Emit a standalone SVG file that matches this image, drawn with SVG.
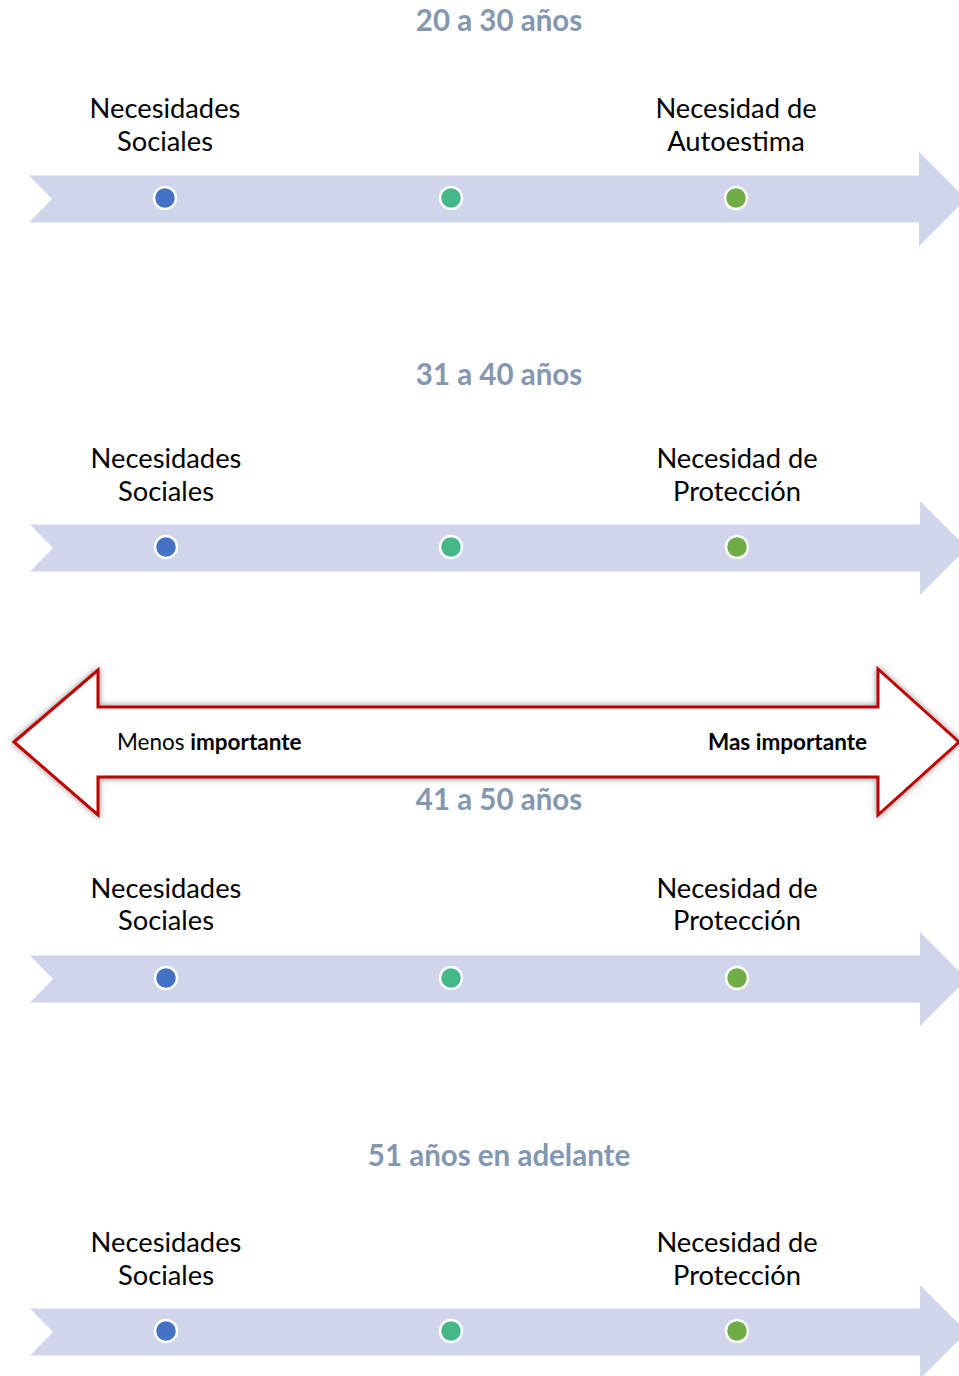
<svg xmlns="http://www.w3.org/2000/svg" width="959" height="1376" viewBox="0 0 959 1376">
<defs>
<style>
.band{fill:#CFD5EA}
.title{font-family:Lato,"Open Sans",sans-serif;font-weight:bold;font-size:29.5px;fill:#8497B0;text-anchor:middle}
.lbl{font-family:Lato,"Open Sans",sans-serif;font-size:27.3px;fill:#000;text-anchor:middle}
.imp{font-family:Lato,"Open Sans",sans-serif;font-size:22.5px;fill:#000}
.d1{fill:#4472C4;stroke:#fff;stroke-width:2.5}
.d2{fill:#44B889;stroke:#fff;stroke-width:2.5}
.d3{fill:#70AD47;stroke:#fff;stroke-width:2.5}
</style>
<path id="arr" d="M29,-23.5 L919,-23.5 L919,-47 L966,0 L919,47 L919,23.5 L29,23.5 L52,0 Z"/>
<filter id="sh" x="-5%" y="-20%" width="110%" height="140%">
<feDropShadow dx="0" dy="0" stdDeviation="3" flood-color="#000" flood-opacity="0.45"/>
</filter>
</defs>

<g id="row1">
<use href="#arr" class="band" transform="translate(0,199)"/>
<circle class="d1" cx="165" cy="198" r="11"/>
<circle class="d2" cx="451" cy="198" r="11"/>
<circle class="d3" cx="736" cy="198" r="11"/>
</g>
<g id="title1"><text class="title" x="499" y="31">20 a 30 años</text></g>
<g id="n1a"><text class="lbl" x="165" y="118">Necesidades</text><text class="lbl" x="165" y="151">Sociales</text></g>
<g id="n1b"><text class="lbl" x="736" y="118">Necesidad de</text><text class="lbl" x="736" y="151">Autoestima</text></g>

<g id="row2">
<use href="#arr" class="band" transform="translate(1,548)"/>
<circle class="d1" cx="166" cy="547" r="11"/>
<circle class="d2" cx="451" cy="547" r="11"/>
<circle class="d3" cx="737" cy="547" r="11"/>
</g>
<g id="title2"><text class="title" x="499" y="385">31 a 40 años</text></g>
<g id="n2a"><text class="lbl" x="166" y="468">Necesidades</text><text class="lbl" x="166" y="501">Sociales</text></g>
<g id="n2b"><text class="lbl" x="737" y="468">Necesidad de</text><text class="lbl" x="737" y="501">Protección</text></g>

<g id="importance">
<path d="M14,742 L98,670 L98,707 L878,707 L878,669 L959,742 L878,815 L878,777 L98,777 L98,815 Z" fill="#fff" stroke="#C00000" stroke-width="3" filter="url(#sh)"/>
<text class="imp" x="117" y="750">Menos <tspan font-weight="bold">importante</tspan></text>
<text class="imp" x="867" y="750" text-anchor="end" font-weight="bold">Mas importante</text>
</g>

<g id="row3">
<use href="#arr" class="band" transform="translate(1,979)"/>
<circle class="d1" cx="166" cy="978" r="11"/>
<circle class="d2" cx="451" cy="978" r="11"/>
<circle class="d3" cx="737" cy="978" r="11"/>
</g>
<g id="title3"><text class="title" x="499" y="810">41 a 50 años</text></g>
<g id="n3a"><text class="lbl" x="166" y="898">Necesidades</text><text class="lbl" x="166" y="930">Sociales</text></g>
<g id="n3b"><text class="lbl" x="737" y="898">Necesidad de</text><text class="lbl" x="737" y="930">Protección</text></g>

<g id="row4">
<use href="#arr" class="band" transform="translate(1,1332)"/>
<circle class="d1" cx="166" cy="1331" r="11"/>
<circle class="d2" cx="451" cy="1331" r="11"/>
<circle class="d3" cx="737" cy="1331" r="11"/>
</g>
<g id="title4"><text class="title" x="499" y="1166">51 años en adelante</text></g>
<g id="n4a"><text class="lbl" x="166" y="1252">Necesidades</text><text class="lbl" x="166" y="1285">Sociales</text></g>
<g id="n4b"><text class="lbl" x="737" y="1252">Necesidad de</text><text class="lbl" x="737" y="1285">Protección</text></g>
</svg>
